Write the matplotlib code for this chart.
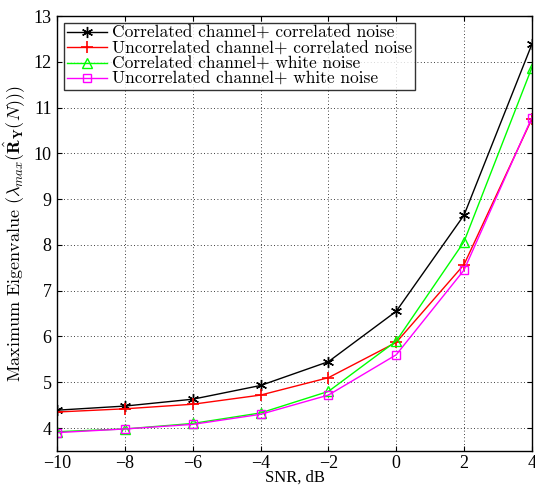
import matplotlib
matplotlib.use("Agg")
import matplotlib.pyplot as plt

plt.rcParams["font.family"] = "serif"
plt.rcParams["font.serif"] = ["Liberation Serif"]
plt.rcParams["mathtext.fontset"] = "cm"

snr_db = [-10, -8, -6, -4, -2, 0, 2, 4]
corr_ch_corr_noise = [4.39, 4.48, 4.63, 4.93, 5.45, 6.55, 8.65, 12.38]
uncorr_ch_corr_noise = [4.35, 4.42, 4.52, 4.72, 5.10, 5.87, 7.57, 10.75]
corr_ch_white_noise = [3.92, 3.98, 4.10, 4.33, 4.80, 5.90, 8.07, 11.87]
uncorr_ch_white_noise = [3.90, 3.98, 4.08, 4.30, 4.72, 5.60, 7.45, 10.78]

labels = [
    "Correlated channel+ correlated noise",
    "Uncorrelated channel+ correlated noise",
    "Correlated channel+ white noise",
    "Uncorrelated channel+ white noise",
]

fig = plt.figure(figsize=(5.35, 4.88), dpi=100)
ax = fig.add_axes([0.107, 0.076, 0.887, 0.891])

# asterisk marker: six spokes, like MATLAB's '*'
ax.plot(snr_db, corr_ch_corr_noise, color="black", marker=(6, 2, 0), ms=8,
        mew=1.0, lw=1.0, label=labels[0])
ax.plot(snr_db, uncorr_ch_corr_noise, color="red", marker="+", ms=8,
        mew=1.2, lw=1.0, label=labels[1])
ax.plot(snr_db, corr_ch_white_noise, color="#00ff00", marker="^", ms=7,
        mfc="none", lw=1.0, label=labels[2])
ax.plot(snr_db, uncorr_ch_white_noise, color="magenta", marker="s", ms=6,
        mfc="none", lw=1.0, label=labels[3])

ax.set_xlim(-10, 4)
ax.set_ylim(3.5, 13)
ax.set_xticks(snr_db)
ax.set_xticklabels(["\u2212" + str(-v) if v < 0 else str(v) for v in snr_db])
ax.set_yticks(range(4, 14))
ax.tick_params(direction="in", top=True, right=True, labelsize=13, pad=4)
ax.tick_params(axis="x", pad=3)
ax.grid(True, linestyle=(0, (1, 3)), color="black", lw=0.6)
for s in ax.spines.values():
    s.set_linewidth(1.0)

ax.set_xlabel("SNR, dB", fontsize=12, labelpad=-2)
ax.set_ylabel(r"Maximum Eigenvalue $(\lambda_{max}(\hat{\mathbf{R}}_{\mathbf{Y}}(N)))$",
              fontsize=13, family="cmr10", labelpad=5)

leg = ax.legend(loc="upper left", frameon=True, fancybox=False,
                prop={"family": "cmr10", "size": 12.5},
                edgecolor="black", borderpad=0.15, labelspacing=0.0,
                handlelength=2.3, handletextpad=0.3, borderaxespad=0.4)
leg.get_frame().set_linewidth(1.0)

fig.savefig("out.png", dpi=100)
